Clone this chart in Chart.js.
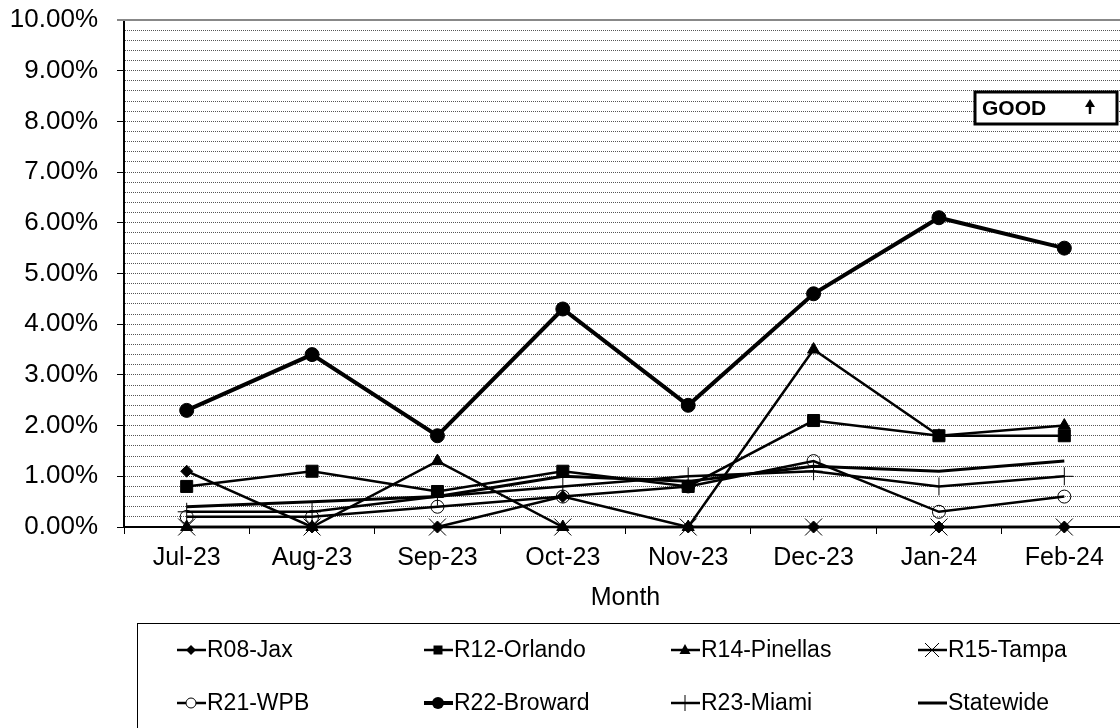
<!DOCTYPE html>
<html>
<head>
<meta charset="utf-8">
<script src="https://cdn.jsdelivr.net/npm/chart.js@4.4.0/dist/chart.umd.min.js"></script>
<style>
  html, body { margin: 0; padding: 0; background: #fff; overflow: hidden; }
  canvas { display: block; }
</style>
</head>
<body>
<canvas id="lineChart" width="1140" height="728"></canvas>
<script>
// Months on the x axis
var months = ["Jul-23", "Aug-23", "Sep-23", "Oct-23", "Nov-23", "Dec-23", "Jan-24", "Feb-24"];

// Values per region, in percent
var jax = [1.1, 0, 0, 0.6, 0, 0, 0, 0];
var orlando = [0.8, 1.1, 0.7, 1.1, 0.8, 2.1, 1.8, 1.8];
var pinellas = [0, 0, 1.3, 0, 0, 3.5, 1.8, 2.0];
var tampa = [0, 0, 0, 0, 0, 0, 0, 0];
var wpb = [0.2, 0.2, 0.4, 0.6, 0.8, 1.3, 0.3, 0.6];
var broward = [2.3, 3.4, 1.8, 4.3, 2.4, 4.6, 6.1, 5.5];
var miami = [0.3, 0.3, 0.6, 0.8, 1.0, 1.1, 0.8, 1.0];
var statewide = [0.4, 0.5, 0.6, 1.0, 0.9, 1.2, 1.1, 1.3];

var seriesNames = ["R08-Jax", "R12-Orlando", "R14-Pinellas", "R15-Tampa",
                   "R21-WPB", "R22-Broward", "R23-Miami", "Statewide"];

Chart.defaults.font.family = "'Liberation Sans', Arial, sans-serif";
Chart.defaults.color = "#000";

function series(label, data, style, radius, opts) {
    var ds = {
        label: label,
        data: data,
        borderColor: "#000",
        backgroundColor: "#000",
        borderWidth: 2.5,
        pointStyle: style,
        pointRadius: radius,
        pointHoverRadius: radius,
        pointBackgroundColor: "#000",
        pointBorderColor: "#000",
        pointBorderWidth: 1,
        tension: 0,
        clip: false
    };
    for (var k in opts) ds[k] = opts[k];
    return ds;
}

// small marker drawer for the legend
function drawMark(ctx, style, x, y) {
    ctx.save();
    ctx.fillStyle = "#000";
    ctx.strokeStyle = "#000";
    ctx.lineWidth = 1;
    ctx.beginPath();
    if (style === "diamond") {
        ctx.moveTo(x, y - 5); ctx.lineTo(x + 5, y); ctx.lineTo(x, y + 5); ctx.lineTo(x - 5, y);
        ctx.closePath(); ctx.fill();
    } else if (style === "square") {
        ctx.rect(x - 4.5, y - 4.5, 9, 9); ctx.fill();
    } else if (style === "triangle") {
        ctx.moveTo(x, y - 6); ctx.lineTo(x + 5.5, y + 4); ctx.lineTo(x - 5.5, y + 4);
        ctx.closePath(); ctx.fill();
    } else if (style === "x") {
        ctx.moveTo(x - 7, y - 7); ctx.lineTo(x + 7, y + 7);
        ctx.moveTo(x + 7, y - 7); ctx.lineTo(x - 7, y + 7); ctx.stroke();
    } else if (style === "ring") {
        ctx.arc(x, y, 5, 0, Math.PI * 2); ctx.fillStyle = "#fff"; ctx.fill(); ctx.stroke();
    } else if (style === "dot") {
        ctx.arc(x, y, 6, 0, Math.PI * 2); ctx.fill();
    } else if (style === "plus") {
        ctx.moveTo(x, y - 8); ctx.lineTo(x, y + 8); ctx.stroke();
    }
    ctx.restore();
}

var legendMarks = ["diamond", "square", "triangle", "x", "ring", "dot", "plus", "none"];
var legendWidths = [2.5, 2.5, 2.5, 2.5, 2.5, 4, 2.5, 3];

var extras = {
    id: "extras",
    afterDraw: function (chart) {
        var ctx = chart.ctx;
        var area = chart.chartArea;
        ctx.save();
        // solid top border of the plot
        ctx.strokeStyle = "#888";
        ctx.lineWidth = 2;
        ctx.beginPath();
        ctx.moveTo(117, area.top);
        ctx.lineTo(chart.width, area.top);
        ctx.stroke();

        // GOOD box
        ctx.fillStyle = "#fff";
        ctx.fillRect(975, 92, 142, 32);
        ctx.strokeStyle = "#000";
        ctx.lineWidth = 3;
        ctx.strokeRect(975, 92, 142, 32);
        ctx.fillStyle = "#000";
        ctx.font = "bold 21px 'Liberation Sans', Arial, sans-serif";
        ctx.textBaseline = "middle";
        ctx.textAlign = "left";
        ctx.fillText("GOOD", 982, 109);
        ctx.lineWidth = 2.5;
        ctx.beginPath();
        ctx.moveTo(1090, 114); ctx.lineTo(1090, 105); ctx.stroke();
        ctx.beginPath();
        ctx.moveTo(1090, 99); ctx.lineTo(1095, 107); ctx.lineTo(1085, 107); ctx.closePath(); ctx.fill();

        // legend box
        ctx.strokeStyle = "#000";
        ctx.lineWidth = 1;
        ctx.strokeRect(137.5, 623.5, 1100, 110);
        ctx.font = "23px 'Liberation Sans', Arial, sans-serif";
        for (var i = 0; i < seriesNames.length; i++) {
            var col = i % 4, row = Math.floor(i / 4);
            var cx = 191 + col * 247;
            var cy = 650 + row * 53;
            ctx.lineWidth = legendWidths[i];
            ctx.beginPath();
            ctx.moveTo(cx - 14, cy); ctx.lineTo(cx + 15, cy); ctx.stroke();
            drawMark(ctx, legendMarks[i], cx, cy);
            ctx.fillStyle = "#000";
            ctx.fillText(seriesNames[i], cx + 16, cy + 1);
        }
        ctx.restore();
    }
};

function isWhole(v) { return Math.abs(v - Math.round(v)) < 1e-6; }

var ctx = document.getElementById("lineChart").getContext("2d");
var lineChart = new Chart(ctx, {
    type: "line",
    data: {
        labels: months,
        datasets: [
            series(seriesNames[0], jax, "rectRot", 6, {}),
            series(seriesNames[1], orlando, "rect", 8.5, {}),
            series(seriesNames[2], pinellas, "triangle", 7, {}),
            series(seriesNames[3], tampa, "crossRot", 12, {}),
            series(seriesNames[4], wpb, "circle", 6.5, { pointBackgroundColor: "rgba(0,0,0,0)" }),
            series(seriesNames[5], broward, "circle", 7, { borderWidth: 4 }),
            series(seriesNames[6], miami, "cross", 9, {}),
            series(seriesNames[7], statewide, "circle", 0, { borderWidth: 3 })
        ]
    },
    options: {
        responsive: false,
        animation: false,
        layout: { padding: { left: 0, top: 20, right: 8, bottom: 115 } },
        plugins: {
            legend: { display: false },
            tooltip: { enabled: false }
        },
        scales: {
            x: {
                offset: true,
                grid: {
                    offset: true,
                    drawOnChartArea: false,
                    drawTicks: true,
                    tickLength: 7,
                    tickColor: "#000",
                    tickWidth: 1
                },
                border: { color: "#000", width: 2 },
                ticks: { font: { size: 25 }, padding: 9, maxRotation: 0, autoSkip: false },
                title: { display: true, text: "Month", font: { size: 25 }, padding: { top: 0, bottom: 0 } },
                afterFit: function (scale) {
                    scale.height = 86;
                    scale.paddingLeft = 0;
                    scale.paddingRight = 0;
                }
            },
            y: {
                min: 0,
                max: 10,
                grid: {
                    color: function (c) { return (c.tick && c.tick.value >= 10) ? "rgba(0,0,0,0)" : "#555"; },
                    lineWidth: 1,
                    tickLength: 7,
                    tickColor: function (c) { return (c.tick && isWhole(c.tick.value)) ? "#000" : "rgba(0,0,0,0)"; },
                    tickBorderDash: []
                },
                border: { color: "#000", width: 2, dash: [1, 1] },
                ticks: {
                    stepSize: 0.2,
                    maxTicksLimit: 100,
                    autoSkip: false,
                    padding: 19,
                    font: { size: 26 },
                    callback: function (v) { return isWhole(v) ? Number(v).toFixed(2) + "%" : ""; }
                },
                afterFit: function (scale) {
                    scale.width = 124;
                    scale.paddingTop = 0;
                    scale.paddingBottom = 0;
                }
            }
        }
    },
    plugins: [extras]
});
</script>
</body>
</html>
